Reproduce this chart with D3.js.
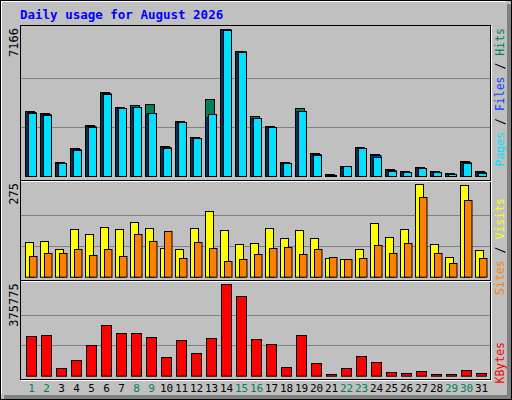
<!DOCTYPE html>
<html><head><meta charset="utf-8">
<script src="https://cdn.jsdelivr.net/npm/d3@7"></script>
<style>body{margin:0;background:#fff}svg{display:block}</style>
</head><body><div id="chart"></div>
<script>
var days = d3.range(1, 32);
var weekend = [1, 2, 8, 9, 15, 16, 22, 23, 29, 30];
var hits  = [3170,3070,680,1370,2490,4100,3370,3460,3510,1460,2680,1900,3750,7166,6100,2910,2440,680,3310,1100,100,490,1410,1070,340,240,440,240,150,730,240];
var files = [3120,3020,630,1320,2440,4040,3320,3360,3070,1410,2630,1850,2880,7166,6100,2830,2390,630,3170,1070,50,490,1370,1020,290,190,390,190,100,680,190];
var pages = [3070,2950,610,1290,2410,3990,3320,3360,3070,1370,2610,1830,3020,7140,6050,2830,2370,610,3170,1020,50,490,1370,930,240,190,390,190,100,630,150];
var visits = [102,105,82,141,126,147,141,162,144,85,82,144,195,138,96,99,144,114,138,114,55,52,82,159,117,141,275,96,58,272,79];
var sites  = [61,70,70,82,64,82,61,126,105,135,55,102,85,46,52,67,85,87,67,82,58,52,55,93,70,99,236,70,40,227,55];
var kbytes = [162000,166000,30400,63300,125000,207200,174300,174300,157900,75600,145500,92100,153800,375775,326400,149600,129100,34500,166100,51000,7000,30400,79800,55100,14000,9900,18100,6000,6000,22200,9900];
var maxHits = 7166, maxVisits = 275, maxKB = 375775;

var W = 512, H = 400;
var mono = "'DejaVu Sans Mono', monospace";
var svg = d3.select("#chart").append("svg").attr("width", W).attr("height", H);

// frame
svg.append("rect").attr("x", 0).attr("y", 0).attr("width", W).attr("height", H).attr("fill", "#c0c0c0");
svg.append("rect").attr("x", 507).attr("y", 4).attr("width", 5).attr("height", 396).attr("fill", "#808080");
svg.append("rect").attr("x", 4).attr("y", 395).attr("width", 508).attr("height", 5).attr("fill", "#808080");
svg.append("path").attr("d", "M1.5,394 V1.5 H506").attr("fill", "none").attr("stroke", "#fff");
svg.append("rect").attr("x", 0.5).attr("y", 0.5).attr("width", W - 1).attr("height", H - 1).attr("fill", "none").attr("stroke", "#000");

svg.append("text").attr("x", 20).attr("y", 19).attr("fill", "#0000ff")
  .attr("font-family", mono).attr("font-weight", "bold").attr("font-size", 12.5)
  .text("Daily usage for August 2026");

var x = d3.scaleLinear().domain([1, 31]).range([25, 475]);

var panels = [
  {top: 25, bottom: 180, base: 176, peak: 29, max: maxHits, label: "7166"},
  {top: 180, bottom: 280, base: 276.7, peak: 184, max: maxVisits, label: "275"},
  {top: 280, bottom: 379, base: 375.7, peak: 284.3, max: maxKB, label: "375775"}
];
panels.forEach(function(p) {
  p.y = d3.scaleLinear().domain([0, p.max]).range([p.base, p.peak]);
  var g = svg.append("g");
  g.append("rect").attr("x", 20.5).attr("y", p.top + 0.5).attr("width", 470).attr("height", p.bottom - p.top)
    .attr("fill", "#c0c0c0").attr("stroke", "#000");
  [1, 2].forEach(function(k) {
    var gy = Math.round(p.base - (p.base - p.peak) * k / 3) + 0.5;
    g.append("line").attr("x1", 21).attr("x2", 490).attr("y1", gy).attr("y2", gy).attr("stroke", "#808080");
  });
  svg.append("text").attr("transform", "translate(18," + (p.peak - 1) + ") rotate(-90)")
    .attr("text-anchor", "end").attr("font-family", mono).attr("font-size", 12).attr("fill", "#000")
    .text(p.label);
});
svg.append("line").attr("x1", 21).attr("x2", 491).attr("y1", 181.5).attr("y2", 181.5).attr("stroke", "#fff");
svg.append("line").attr("x1", 21).attr("x2", 491).attr("y1", 281.5).attr("y2", 281.5).attr("stroke", "#fff");
svg.append("path").attr("d", "M491.5,26 V380.5 H21").attr("fill", "none").attr("stroke", "#fff");

function bars(data, p, off, w, color) {
  svg.append("g").selectAll("rect").data(data).join("rect")
    .attr("x", function(d, i) { return x(days[i]) + off + 0.5; })
    .attr("y", function(d) { return Math.round(p.y(d)) + 0.5; })
    .attr("width", w)
    .attr("height", function(d) { return Math.max(0, p.base - Math.round(p.y(d))); })
    .attr("fill", color).attr("stroke", "#000");
}
bars(hits, panels[0], 0, 9, "#00805c");
bars(files, panels[0], 1.5, 9, "#0040ff");
bars(pages, panels[0], 3, 8, "#00e0ff");
bars(visits, panels[1], 0, 8, "#ffff00");
bars(sites, panels[1], 4, 7.5, "#ff8000");
bars(kbytes, panels[2], 1, 10, "#ff0000");

// day labels
svg.append("g").selectAll("text").data(days).join("text")
  .attr("x", function(d) { return x(d) + 6.5; }).attr("y", 392)
  .attr("text-anchor", "middle").attr("font-family", mono).attr("font-size", 11)
  .attr("fill", function(d) { return weekend.indexOf(d) >= 0 ? "#00805c" : "#000"; })
  .text(function(d) { return d; });

// side legends
function legend(y0, parts) {
  var t = svg.append("text").attr("transform", "translate(504," + y0 + ") rotate(-90)")
    .attr("text-anchor", "end").attr("font-family", mono).attr("font-size", 11.5);
  parts.forEach(function(p) { t.append("tspan").attr("fill", p[1]).text(p[0]); });
}
legend(28, [["Pages", "#00e0ff"], [" / ", "#000"], ["Files", "#0040ff"], [" / ", "#000"], ["Hits", "#00805c"]]);
legend(198, [["Sites", "#ff8000"], [" / ", "#000"], ["Visits", "#ffff00"]]);
legend(342, [["KBytes", "#ff0000"]]);
</script></body></html>
